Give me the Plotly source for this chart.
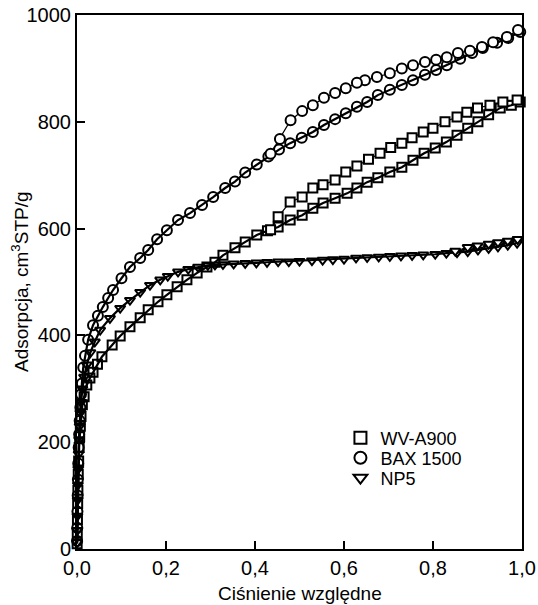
import plotly.graph_objects as go

# ---- data ----
x_ticks = [0.0, 0.2, 0.4, 0.6, 0.8, 1.0]
x_tick_labels = ["0,0", "0,2", "0,4", "0,6", "0,8", "1,0"]
y_ticks = [0, 200, 400, 600, 800, 1000]
y_tick_labels = ["0", "200", "400", "600", "800", "1000"]

series_names = ["WV-A900", "BAX 1500", "NP5"]

# WV-A900 adsorption
wv_ads_p = [0.0003, 0.0006, 0.001, 0.0015, 0.002, 0.0028, 0.0037, 0.0048, 0.006, 0.0075, 0.009,
            0.012, 0.016, 0.022, 0.029, 0.036, 0.046, 0.056, 0.079, 0.097, 0.119, 0.142, 0.16,
            0.182, 0.202, 0.225, 0.247, 0.27, 0.292, 0.31, 0.328, 0.355, 0.378, 0.404, 0.428,
            0.452, 0.479, 0.506, 0.53, 0.553, 0.58, 0.607, 0.629, 0.652, 0.676, 0.703, 0.73,
            0.755, 0.78, 0.805, 0.83, 0.854, 0.878, 0.901, 0.925, 0.951, 0.976, 0.996]
wv_ads_v = [10, 30, 55, 85, 110, 140, 165, 190, 210, 230, 248,
            270, 285, 307, 320, 331, 346, 360, 382, 399, 416, 433, 448,
            463, 476, 491, 504, 517, 528, 537, 550, 564, 575, 588, 596,
            603, 616, 625, 638, 648, 657, 666, 676, 687, 695, 706, 715,
            728, 741, 751, 762, 775, 788, 800, 813, 826, 831, 837]
# WV-A900 desorption
wv_des_p = [0.989, 0.957, 0.928, 0.9, 0.876, 0.854, 0.827, 0.8, 0.778, 0.753, 0.73, 0.705,
            0.681, 0.655, 0.629, 0.604, 0.58, 0.553, 0.53, 0.506, 0.479, 0.452, 0.435]
wv_des_v = [841, 837, 831, 826, 818, 809, 800, 788, 781, 770, 760, 752,
            741, 730, 717, 706, 691, 682, 676, 659, 650, 622, 598]

# BAX 1500 adsorption
bax_ads_p = [0.0003, 0.0006, 0.001, 0.0015, 0.002, 0.0028, 0.0037, 0.0048, 0.006, 0.0075, 0.009,
             0.011, 0.014, 0.018, 0.025, 0.036, 0.047, 0.058, 0.07, 0.081, 0.1, 0.119, 0.142,
             0.16, 0.18, 0.202, 0.227, 0.254, 0.281, 0.306, 0.333, 0.355, 0.378, 0.404, 0.43,
             0.454, 0.479, 0.505, 0.53, 0.555, 0.58, 0.604, 0.629, 0.652, 0.676, 0.703, 0.73,
             0.755, 0.782, 0.807, 0.831, 0.861, 0.888, 0.912, 0.944, 0.969, 0.996]
bax_ads_v = [15, 40, 70, 100, 130, 160, 190, 215, 240, 265, 290,
             310, 340, 362, 392, 419, 437, 453, 470, 485, 507, 528, 545,
             560, 580, 597, 616, 629, 644, 659, 676, 688, 705, 720, 735,
             748, 760, 770, 781, 794, 805, 816, 828, 837, 850, 860, 869,
             878, 888, 897, 906, 918, 929, 938, 948, 957, 968]
# BAX 1500 desorption
bax_des_p = [0.991, 0.966, 0.935, 0.91, 0.883, 0.856, 0.831, 0.807, 0.782, 0.755, 0.73,
             0.703, 0.674, 0.647, 0.629, 0.604, 0.58, 0.555, 0.53, 0.506, 0.48, 0.456, 0.435]
bax_des_v = [972, 959, 949, 940, 933, 929, 921, 916, 912, 906, 900,
             891, 884, 878, 873, 863, 854, 845, 831, 820, 803, 768, 740]

# NP5 adsorption
np5_ads_p = [0.0003, 0.0006, 0.001, 0.0015, 0.002, 0.0028, 0.0037, 0.0048, 0.006, 0.0075, 0.009,
             0.012, 0.016, 0.022, 0.03, 0.04, 0.052, 0.074, 0.097, 0.119, 0.142, 0.164, 0.187,
             0.204, 0.227, 0.25, 0.272, 0.294, 0.31, 0.328, 0.352, 0.378, 0.403, 0.427, 0.452,
             0.476, 0.5, 0.528, 0.552, 0.575, 0.6, 0.627, 0.652, 0.678, 0.703, 0.728, 0.753,
             0.778, 0.805, 0.83, 0.854, 0.878, 0.901, 0.925, 0.946, 0.968, 0.989]
np5_ads_v = [12, 35, 62, 92, 120, 150, 178, 205, 230, 255, 275,
             300, 322, 345, 368, 388, 410, 432, 451, 466, 481, 494, 504,
             511, 519, 524, 528, 531, 532, 533, 534, 535, 536, 537, 538,
             538, 539, 540, 541, 542, 543, 545, 546, 547, 548, 549, 550,
             551, 552, 554, 555, 557, 560, 563, 566, 569, 573]
# NP5 desorption
np5_des_p = [0.99, 0.968, 0.946, 0.925, 0.9, 0.878, 0.85]
np5_des_v = [580, 577, 574, 571, 568, 565, 558]

# ---- figure ----
FONT = "Liberation Sans, Arial, sans-serif"
fig = go.Figure()

def add_pair(p_ads, v_ads, p_des, v_des, symbol, size):
    fig.add_trace(go.Scatter(
        x=p_ads, y=v_ads, mode="lines+markers", showlegend=False, cliponaxis=False,
        line=dict(color="black", width=2.2),
        marker=dict(symbol=symbol + "-open", size=size, color="black", line=dict(width=2)),
    ))
    fig.add_trace(go.Scatter(
        x=p_des, y=v_des, mode="lines+markers", showlegend=False, cliponaxis=False,
        line=dict(color="black", width=1.2),
        marker=dict(symbol=symbol, size=size, color="white", line=dict(color="black", width=2)),
    ))

add_pair(np5_ads_p, np5_ads_v, np5_des_p, np5_des_v, "triangle-down", 9)
add_pair(wv_ads_p, wv_ads_v, wv_des_p, wv_des_v, "square", 9)
add_pair(bax_ads_p, bax_ads_v, bax_des_p, bax_des_v, "circle", 10)

legend_ids = ["legend", "legend2", "legend3"]
for name, sym, lid in zip(series_names, ["square", "circle", "triangle-down"], legend_ids):
    fig.add_trace(go.Scatter(
        x=[None], y=[None], mode="markers", name=name, legend=lid,
        marker=dict(symbol=sym + "-open", size=8, color="black", line=dict(width=2.2)),
    ))

axis_common = dict(
    showline=True, linecolor="black", linewidth=2, mirror=True,
    ticks="inside", ticklen=8, tickwidth=1.8, tickcolor="black",
    showgrid=False, zeroline=False, automargin=False,
    tickfont=dict(family=FONT, size=20, color="black"),
)

legend_style = dict(xanchor="left", yanchor="middle", x=0.592,
                    font=dict(family=FONT, size=18, color="black"),
                    bgcolor="rgba(0,0,0,0)", itemsizing="constant")

fig.update_layout(
    width=538, height=605,
    margin=dict(l=77, r=16, t=15, b=56),
    paper_bgcolor="white", plot_bgcolor="white",
    font=dict(family=FONT, color="black"),
    xaxis=dict(range=[0, 1], tickvals=x_ticks, ticktext=x_tick_labels, **axis_common),
    yaxis=dict(range=[0, 1000], tickvals=y_ticks, ticktext=y_tick_labels, **axis_common),
    legend=dict(y=0.2079, **legend_style),
    legend2=dict(y=0.1704, **legend_style),
    legend3=dict(y=0.1330, **legend_style),
    showlegend=True,
    annotations=[
        dict(text="Ciśnienie względne", xref="paper", yref="paper", x=0.5, y=-0.0835,
             xanchor="center", yanchor="middle", showarrow=False,
             font=dict(family=FONT, size=19, color="black")),
        dict(text="Adsorpcja, cm<sup>3</sup>STP/g", xref="paper", yref="paper", x=-0.128, y=0.5,
             xanchor="center", yanchor="middle", textangle=-90, showarrow=False,
             font=dict(family=FONT, size=19, color="black")),
    ],
)

fig.write_html("out.html", config={"displayModeBar": False},
               post_script="document.body.style.margin='0';")
